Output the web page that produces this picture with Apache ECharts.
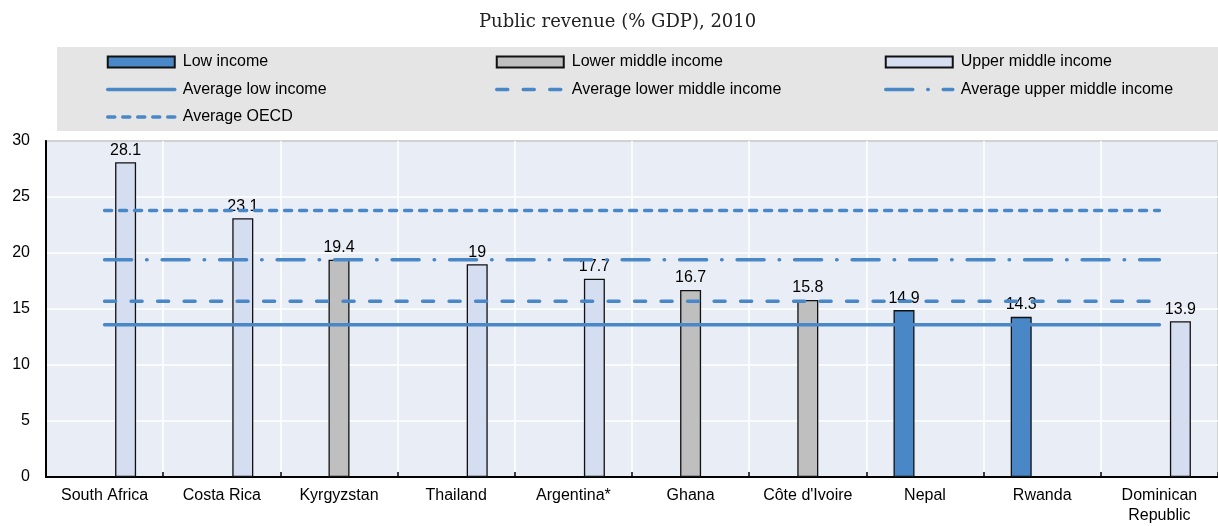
<!DOCTYPE html>
<html>
<head>
<meta charset="utf-8">
<script src="https://cdn.jsdelivr.net/npm/echarts@6/dist/echarts.min.js"></script>
<style>
  html, body { margin: 0; padding: 0; background: #fff; }
  #chart { width: 1218px; height: 526px; }
</style>
</head>
<body>
<div id="chart"></div>
<script>
// countries on the x axis
const categories = ['South Africa', 'Costa Rica', 'Kyrgyzstan', 'Thailand', 'Argentina*', 'Ghana', "Côte d'Ivoire", 'Nepal', 'Rwanda', 'Dominican Republic'];

// public revenue (% GDP), 2010, by income group
const lowIncome   = [null, null, null, null, null, null, null, 14.9, 14.3, null];
const lowerMiddle = [null, null, 19.4, null, null, 16.7, 15.8, null, null, null];
const upperMiddle = [28.1, 23.1, null, 19, 17.7, null, null, null, null, 13.9];

// group averages (horizontal reference lines)
const avgLow = 13.6;
const avgLowerMiddle = 15.7;
const avgUpperMiddle = 19.4;
const avgOECD = 23.8;

const yTicks = { min: 0, max: 30, interval: 5 };

const blue = '#4a87c7';
const fontFam = '"Liberation Sans", Arial, sans-serif';

const chart = echarts.init(document.getElementById('chart'));

function barSeries(name, data, color) {
    return {
        name: name,
        type: 'bar',
        data: data,
        barWidth: 21,
        barGap: '0%',
        itemStyle: { color: color, borderColor: '#111', borderWidth: 1.3 },
        label: {
            show: true,
            position: 'top',
            distance: 4,
            color: '#000',
            fontSize: 16,
            fontFamily: fontFam
        }
    };
}

function avgSeries(name, value, dash) {
    return {
        name: name,
        type: 'line',
        data: categories.map(() => value),
        symbol: 'none',
        silent: true,
        z: 5,
        itemStyle: { color: blue },
        lineStyle: { color: blue, width: 3.5, type: dash, cap: 'round' }
    };
}

// legend entry: bars get a square box, lines hide the symbol dot
function entry(name) {
    if (name.indexOf('Average') === 0) {
        return { name: name, itemStyle: { opacity: 0 }, lineStyle: { width: 3.5, cap: 'round' } };
    }
    return { name: name, icon: 'rect' };
}

const legendText = { color: '#000', fontSize: 16, fontFamily: fontFam, lineHeight: 16, padding: [0, 0, 0, 3] };
function legendCol(left, names) {
    return {
        orient: 'vertical',
        left: left,
        top: 54,
        padding: 0,
        itemWidth: 67,
        itemHeight: 11,
        itemGap: 11.5,
        selectedMode: false,
        textStyle: legendText,
        data: names.map(entry)
    };
}

chart.setOption({
    backgroundColor: '#fff',
    animation: false,
    title: {
        text: 'Public revenue (% GDP), 2010',
        left: 474,
        top: 8,
        textStyle: { fontFamily: '"DejaVu Serif", serif', fontWeight: 'normal', fontSize: 18, color: '#222' }
    },
    graphic: [{
        type: 'rect',
        left: 57,
        top: 47,
        shape: { width: 1161, height: 84 },
        style: { fill: '#e5e5e5' },
        z: -1
    }],
    legend: [
        legendCol(106, ['Low income', 'Average low income', 'Average OECD']),
        legendCol(495, ['Lower middle income', 'Average lower middle income']),
        legendCol(884, ['Upper middle income', 'Average upper middle income'])
    ],
    grid: {
        left: 46,
        right: -6,
        top: 141,
        bottom: 48,
        show: true,
        backgroundColor: '#e9edf6',
        borderColor: '#111',
        borderWidth: 1.5
    },
    xAxis: {
        type: 'category',
        data: categories,
        axisLine: { lineStyle: { color: '#000', width: 2 } },
        axisTick: { show: true, inside: true, length: 5, lineStyle: { color: '#000', width: 1.5 } },
        splitLine: { show: true, lineStyle: { color: '#fff', width: 1.5 } },
        axisLabel: {
            color: '#000',
            fontSize: 16,
            fontFamily: fontFam,
            margin: 9,
            lineHeight: 20,
            interval: 0,
            formatter: v => v === 'Dominican Republic' ? 'Dominican\nRepublic' : v
        }
    },
    yAxis: {
        type: 'value',
        min: yTicks.min,
        max: yTicks.max,
        interval: yTicks.interval,
        axisLine: { show: true, lineStyle: { color: '#000', width: 2 } },
        axisTick: { show: false },
        splitLine: { show: true, lineStyle: { color: '#fff', width: 1.5 } },
        axisLabel: { color: '#000', fontSize: 16, fontFamily: fontFam, margin: 16 }
    },
    series: [
        barSeries('Low income', lowIncome, blue),
        barSeries('Lower middle income', lowerMiddle, '#bfbfbf'),
        barSeries('Upper middle income', upperMiddle, '#d5ddf0'),
        avgSeries('Average low income', avgLow, 'solid'),
        avgSeries('Average lower middle income', avgLowerMiddle, [11, 15.5]),
        avgSeries('Average upper middle income', avgUpperMiddle, [27, 15, 0.5, 15]),
        avgSeries('Average OECD', avgOECD, [7, 8])
    ]
});
</script>
</body>
</html>
